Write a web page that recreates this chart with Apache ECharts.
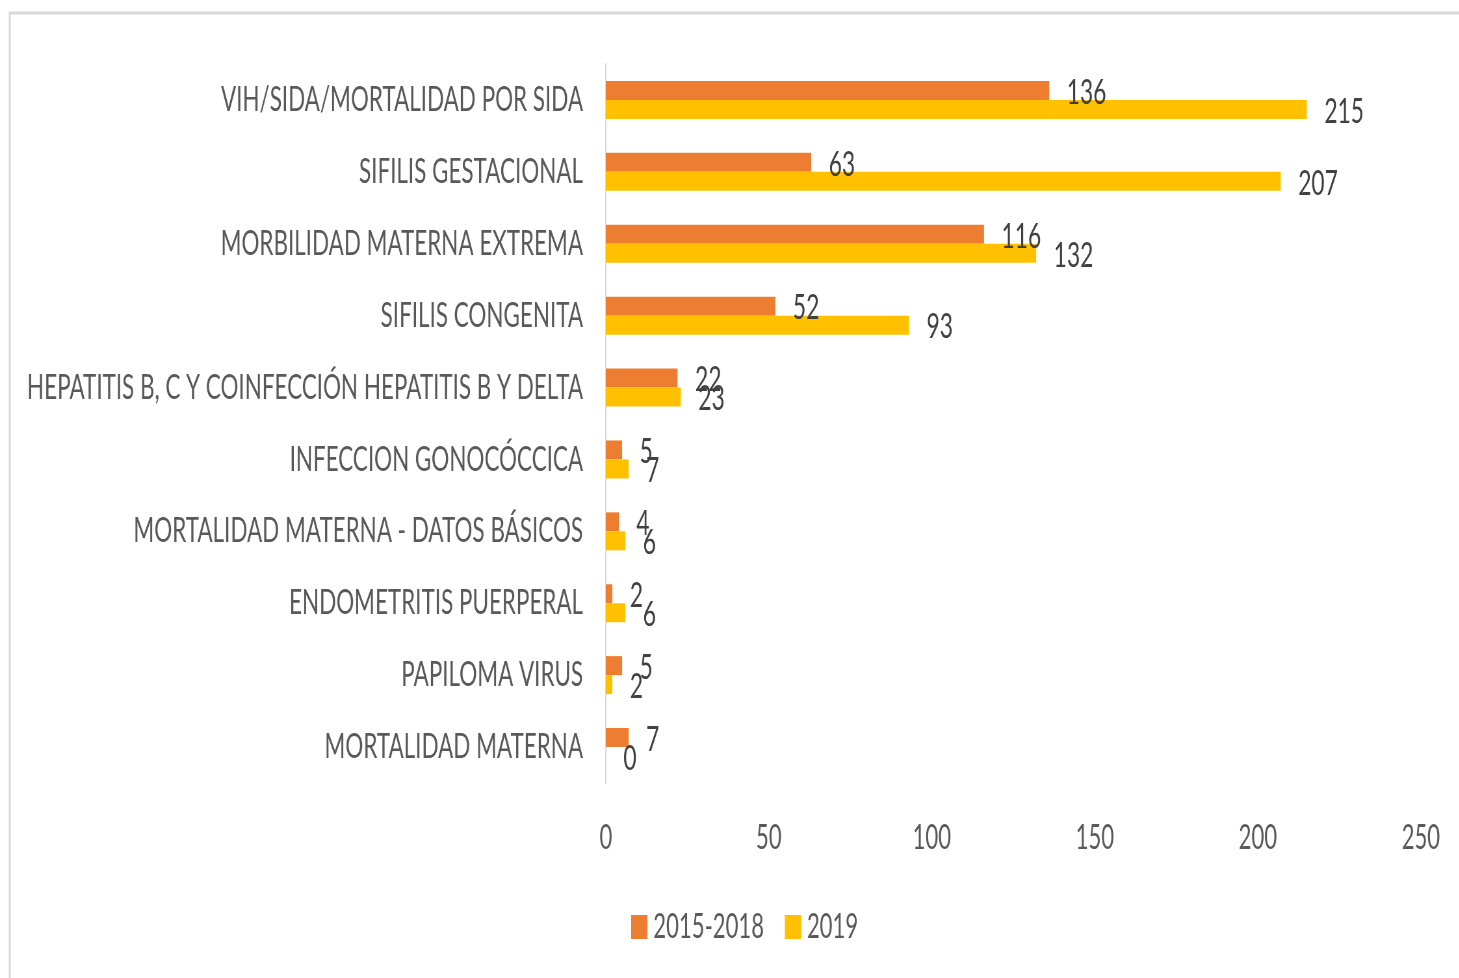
<!DOCTYPE html>
<html>
<head>
<meta charset="utf-8">
<script src="https://cdn.jsdelivr.net/npm/echarts@6/dist/echarts.min.js"></script>
<style>
  html, body { margin: 0; padding: 0; background: #fff; overflow: hidden; }
  /* the reference text is horizontally squeezed, so the chart is drawn wider and scaled */
  #chart { width: 2245px; height: 978px; transform: scaleX(0.65); transform-origin: 0 0; }
</style>
</head>
<body>
<div id="chart"></div>
<script>
const categories = [
    'MORTALIDAD MATERNA',
    'PAPILOMA VIRUS',
    'ENDOMETRITIS PUERPERAL',
    'MORTALIDAD MATERNA - DATOS BÁSICOS',
    'INFECCION GONOCÓCCICA',
    'HEPATITIS B, C Y COINFECCIÓN HEPATITIS B Y DELTA',
    'SIFILIS CONGENITA',
    'MORBILIDAD MATERNA EXTREMA',
    'SIFILIS GESTACIONAL',
    'VIH/SIDA/MORTALIDAD POR SIDA'
];
const valores2015_2018 = [7, 5, 2, 4, 5, 22, 52, 116, 63, 136];
const valores2019 = [0, 2, 6, 6, 7, 23, 93, 132, 207, 215];
const xTicks = [0, 50, 100, 150, 200, 250];

window.addEventListener('load', function () {
    const chart = echarts.init(document.getElementById('chart'));
    const fuente = 'Lato';
    const etiqueta = {
        show: true,
        position: 'right',
        distance: 27,
        color: '#404040',
        fontFamily: fuente,
        fontSize: 35,
        offset: [0, 2]
    };
    const opcion = {
        animation: false,
        graphic: [{
            type: 'rect',
            shape: { x: 15, y: 13, width: 4000, height: 2000 },
            style: { fill: 'none', stroke: '#d9d9d9', lineWidth: 3 }
        }],
        grid: { left: 932, right: 59, top: 64, bottom: 195, containLabel: false },
        legend: {
            data: ['2015-2018', '2019'],
            left: 966,
            top: 905,
            itemWidth: 25,
            itemHeight: 24,
            itemGap: 32,
            icon: 'rect',
            textStyle: { color: '#595959', fontFamily: fuente, fontSize: 34, padding: [0, 0, 0, 4] }
        },
        xAxis: {
            type: 'value',
            min: 0,
            max: 250,
            interval: 50,
            axisLine: { show: false },
            axisTick: { show: false },
            splitLine: { show: false },
            axisLabel: {
                color: '#595959', fontFamily: fuente, fontSize: 34, margin: 38,
                formatter: v => xTicks.includes(v) ? String(v) : ''
            }
        },
        yAxis: {
            type: 'category',
            data: categories,
            axisLine: { show: true, lineStyle: { color: '#d9d9d9', width: 2 } },
            axisTick: { show: false },
            axisLabel: { color: '#595959', fontFamily: fuente, fontSize: 34.5, margin: 35 }
        },
        series: [
            {
                name: '2015-2018',
                type: 'bar',
                data: valores2015_2018,
                barWidth: 19,
                barGap: '0%',
                itemStyle: { color: '#ED7D31' },
                label: etiqueta
            },
            {
                name: '2019',
                type: 'bar',
                data: valores2019,
                barWidth: 19,
                barGap: '0%',
                itemStyle: { color: '#FFC000' },
                label: etiqueta
            }
        ]
    };
    chart.setOption(opcion);
});
</script>
</body>
</html>
